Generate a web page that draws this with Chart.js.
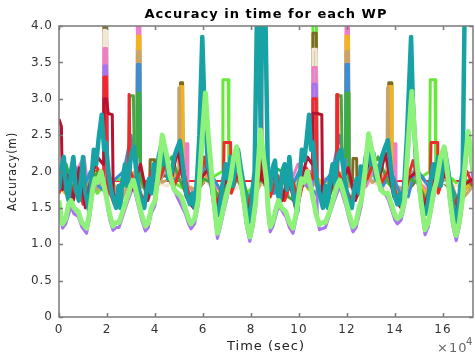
<!DOCTYPE html>
<html>
<head>
<title>Accuracy in time for each WP</title>
<style>
  body { margin: 0; background: #fff; }
</style>
</head>
<body>
<canvas id="acc" width="475" height="360"></canvas>

<script src="https://cdn.jsdelivr.net/npm/chart.js@4.4.0/dist/chart.umd.min.js"></script>
<script>
// time axis is in units of 10^4 sec
const xTicks = [0, 2, 4, 6, 8, 10, 12, 14, 16];
const yTicks = [0, 0.5, 1, 1.5, 2, 2.5, 3, 3.5, 4];

// light green WP (lowest envelope), [time, accuracy]
const limePts = [[0, 1.6], [0.08, 1.4], [0.15, 1.28], [0.28, 1.35], [0.4, 1.55], [0.5, 1.6], [0.62, 1.5], [0.8, 1.45], [0.95, 1.3], [1.15, 1.22], [1.28, 1.45], [1.4, 1.75], [1.5, 1.9], [1.62, 1.85], [1.75, 2.0], [1.88, 1.8], [2.0, 1.6], [2.12, 1.4], [2.25, 1.25], [2.38, 1.3], [2.5, 1.3], [2.65, 1.45], [2.85, 1.65], [2.98, 1.8], [3.1, 1.88], [3.2, 1.75], [3.3, 1.6], [3.45, 1.4], [3.6, 1.25], [3.72, 1.3], [3.85, 1.5], [4.0, 1.6], [4.15, 2.0], [4.3, 2.5], [4.4, 2.35], [4.5, 2.2], [4.62, 1.95], [4.8, 1.75], [4.95, 1.7], [5.1, 1.65], [5.25, 1.5], [5.4, 1.35], [5.5, 1.28], [5.65, 1.35], [5.8, 1.6], [5.95, 2.4], [6.1, 3.08], [6.22, 2.5], [6.35, 2.0], [6.45, 1.6], [6.6, 1.15], [6.72, 1.3], [6.85, 1.5], [7.0, 1.7], [7.15, 1.9], [7.28, 2.2], [7.4, 2.34], [7.52, 2.0], [7.7, 1.6], [7.82, 1.3], [7.95, 1.1], [8.08, 1.3], [8.2, 1.6], [8.3, 2.1], [8.4, 2.57], [8.52, 2.2], [8.64, 1.9],
    [8.72, 1.45], [8.8, 1.24], [8.92, 1.32], [9.05, 1.5], [9.15, 1.6], [9.28, 1.5], [9.45, 1.45], [9.6, 1.3], [9.75, 1.22], [9.9, 1.45], [10.02, 1.75], [10.1, 1.9], [10.22, 1.85], [10.35, 2.0], [10.48, 1.8], [10.6, 1.6], [10.72, 1.4], [10.85, 1.27], [10.98, 1.3], [11.1, 1.3], [11.28, 1.45], [11.45, 1.65], [11.58, 1.8], [11.7, 1.88], [11.82, 1.75], [11.95, 1.6], [12.1, 1.4], [12.25, 1.24], [12.38, 1.3], [12.5, 1.5], [12.6, 1.6], [12.75, 2.0], [12.9, 2.52], [13.0, 2.35], [13.1, 2.2], [13.25, 1.95], [13.4, 1.75], [13.55, 1.7], [13.7, 1.7], [13.85, 1.55], [14.0, 1.4], [14.1, 1.35], [14.25, 1.4], [14.4, 1.6], [14.55, 2.4], [14.7, 3.1], [14.82, 2.5], [14.95, 2.0], [15.08, 1.6], [15.25, 1.2], [15.38, 1.3], [15.5, 1.5], [15.6, 1.7], [15.75, 1.9], [15.9, 2.2], [16.05, 2.34], [16.18, 2.0], [16.3, 1.6], [16.42, 1.3], [16.55, 1.12], [16.68, 1.3], [16.8, 1.6], [16.92, 2.1], [17.05, 2.55], [17.15, 2.3], [17.25, 2.0]];

// teal WP (main thick line)
const tealPts = [[0, 1.75], [0.1, 2.05], [0.2, 2.2], [0.3, 1.75], [0.4, 1.6], [0.5, 2.0], [0.6, 2.2], [0.7, 1.75], [0.83, 1.6], [0.92, 1.9], [1.0, 2.2], [1.1, 1.7], [1.26, 1.45], [1.35, 1.9], [1.45, 2.3], [1.55, 2.1], [1.65, 2.45], [1.78, 2.78], [1.88, 2.3], [1.95, 2.4], [2.08, 1.93], [2.2, 1.7], [2.38, 1.5], [2.48, 1.8], [2.55, 1.5], [2.65, 1.9], [2.75, 2.1], [2.85, 1.8], [2.92, 2.0], [3.02, 2.25], [3.12, 2.34], [3.22, 2.0], [3.3, 1.8], [3.42, 1.6], [3.55, 1.5], [3.65, 1.75], [3.75, 1.9], [3.85, 1.7], [3.95, 2.1], [4.04, 1.93], [4.15, 2.2], [4.25, 2.35], [4.35, 2.1], [4.45, 2.25], [4.55, 1.9], [4.7, 2.0], [4.8, 2.2], [4.9, 2.3], [5.04, 2.42], [5.12, 2.2], [5.2, 1.95], [5.3, 1.7], [5.46, 1.55], [5.56, 1.7], [5.65, 1.5], [5.75, 1.9], [5.85, 2.5], [5.97, 3.85], [6.05, 3.0], [6.12, 2.6], [6.2, 2.1], [6.29, 1.98], [6.4, 1.7], [6.5, 1.5], [6.63, 1.4], [6.72, 1.6], [6.85, 1.9], [6.95, 2.1], [7.05, 1.9], [7.15, 2.2], [7.25, 1.8], [7.35, 2.1], [7.46, 2.3], [7.55, 2.1], [7.65, 1.9], [7.78, 1.55], [7.9, 1.3], [7.98, 1.4], [8.08, 1.8], [8.15, 2.0], [8.25, 4.2], [8.33, 4.2], [8.4, 2.6], [8.47, 4.2], [8.6, 4.2], [8.7, 2.0],
    [8.8, 1.75], [8.9, 2.05], [9.0, 2.15], [9.1, 1.7], [9.2, 1.6], [9.3, 2.0], [9.4, 2.1], [9.5, 1.75], [9.6, 2.2], [9.7, 1.8], [9.82, 1.6], [9.93, 1.45], [10.02, 1.85], [10.12, 2.3], [10.22, 2.15], [10.32, 2.45], [10.42, 2.78], [10.5, 2.3], [10.58, 2.4], [10.7, 1.95], [10.85, 1.7], [11.0, 1.5], [11.1, 1.8], [11.2, 1.5], [11.3, 1.9], [11.4, 2.1], [11.5, 1.8], [11.57, 2.1], [11.66, 2.25], [11.75, 2.3], [11.87, 1.98], [11.95, 1.8], [12.05, 1.6], [12.2, 1.5], [12.3, 1.75], [12.4, 1.9], [12.5, 1.7], [12.57, 2.07], [12.68, 1.95], [12.78, 2.2], [12.9, 2.35], [13.0, 2.1], [13.1, 2.25], [13.2, 1.9], [13.32, 2.0], [13.45, 2.2], [13.55, 2.3], [13.7, 2.43], [13.78, 2.2], [13.86, 1.95], [13.95, 1.7], [14.1, 1.55], [14.2, 1.7], [14.3, 1.5], [14.4, 1.9], [14.5, 2.5], [14.67, 3.85], [14.74, 3.0], [14.8, 2.6], [14.88, 2.1], [14.96, 1.98], [15.05, 1.7], [15.15, 1.5], [15.3, 1.42], [15.38, 1.6], [15.5, 1.9], [15.6, 2.1], [15.7, 1.9], [15.8, 2.2], [15.9, 1.8], [16.0, 2.1], [16.07, 2.3], [16.17, 2.1], [16.27, 1.9], [16.4, 1.55], [16.55, 1.3], [16.62, 1.4], [16.72, 1.8], [16.82, 2.0], [16.9, 4.2], [17.25, 4.2]];

// other WPs
const darkRedPts = [[0, 2.72], [0.1, 2.62], [0.14, 1.75], [0.35, 1.95], [0.6, 1.6], [0.85, 2.05], [1.1, 1.5], [1.35, 1.9], [1.6, 2.2], [1.84, 2.1], [1.87, 3.0], [1.98, 3.0], [2.05, 2.8], [2.22, 2.78], [2.26, 1.7], [2.5, 1.55], [2.75, 2.0], [3.05, 1.75], [3.4, 2.1], [3.7, 1.6], [4.0, 1.95], [4.35, 2.2], [4.65, 1.85], [4.95, 2.3], [5.3, 1.65], [5.6, 1.5], [5.9, 1.9], [6.25, 2.05], [6.55, 1.5], [6.85, 1.8], [7.2, 2.0], [7.55, 1.9], [7.85, 1.4], [8.15, 1.8], [8.42, 1.9], [8.43, 4.1], [8.45, 4.1], [8.46, 1.9], [8.75, 1.75], [9.0, 2.0], [9.3, 1.6], [9.55, 1.95], [9.85, 1.5], [10.1, 1.9], [10.35, 2.2], [10.55, 2.1], [10.58, 2.8], [10.72, 2.8], [10.95, 2.78], [10.98, 1.7], [11.2, 1.55], [11.45, 1.95], [11.75, 1.8], [12.05, 2.05], [12.35, 1.6], [12.7, 1.95], [13.0, 2.2], [13.3, 1.85], [13.6, 2.25], [13.95, 1.65], [14.25, 1.5], [14.55, 1.9], [14.9, 2.0], [15.2, 1.5], [15.5, 1.8], [15.85, 2.0], [16.2, 1.9], [16.5, 1.4], [16.8, 1.8], [17.25, 1.9]];
const redPts = [[0, 1.7], [0.25, 2.0], [0.5, 1.65], [0.75, 1.95], [1.0, 1.55], [1.25, 1.8], [1.5, 2.1], [1.84, 1.9], [1.87, 3.3], [1.98, 3.3], [2.02, 1.8], [2.3, 1.55], [2.6, 1.85], [2.9, 1.9], [2.92, 3.06], [2.95, 3.06], [2.97, 2.0], [3.25, 1.8], [3.55, 1.6], [3.85, 2.0], [4.2, 1.9], [4.5, 2.15], [4.8, 1.8], [5.15, 2.1], [5.45, 1.6], [5.75, 1.75], [6.05, 2.2], [6.35, 1.8], [6.6, 1.55], [6.85, 1.9], [6.88, 2.4], [7.15, 2.4], [7.18, 1.7], [7.5, 2.0], [7.8, 1.5], [8.1, 1.75], [8.5, 2.0], [8.8, 1.65], [9.1, 1.95], [9.4, 1.6], [9.7, 1.9], [10.0, 1.6], [10.3, 2.05], [10.55, 1.9], [10.58, 3.0], [10.72, 3.0], [10.75, 1.8], [11.0, 1.55], [11.3, 1.75], [11.55, 1.9], [11.57, 3.06], [11.6, 3.06], [11.62, 2.0], [11.9, 1.8], [12.2, 1.6], [12.5, 1.95], [12.85, 1.9], [13.15, 2.15], [13.45, 1.85], [13.8, 2.05], [14.1, 1.6], [14.4, 1.75], [14.75, 2.15], [15.05, 1.75], [15.3, 1.55], [15.47, 1.9], [15.5, 2.4], [15.78, 2.4], [15.8, 1.7], [16.1, 2.0], [16.4, 1.5], [16.7, 1.7], [17.0, 2.0], [17.25, 1.8]];
const purplePts = [[0, 1.52], [0.15, 1.22], [0.28, 1.28], [0.5, 1.52], [0.62, 1.42], [0.8, 1.38], [0.95, 1.24], [1.15, 1.15], [1.28, 1.38], [1.4, 1.68], [1.5, 1.82], [1.75, 1.9], [1.84, 1.85], [1.87, 3.45], [1.98, 3.45], [2.02, 1.5], [2.12, 1.33], [2.25, 1.19], [2.38, 1.23], [2.5, 1.23], [2.65, 1.38], [2.85, 1.58], [3.1, 1.8], [3.3, 1.53], [3.45, 1.33], [3.6, 1.18], [3.72, 1.23], [3.85, 1.43], [4.0, 1.53], [4.3, 2.4], [4.62, 1.88], [4.95, 1.63], [5.25, 1.43], [5.4, 1.28], [5.5, 1.21], [5.65, 1.28], [5.8, 1.53], [6.1, 2.95], [6.35, 1.9], [6.45, 1.53], [6.6, 1.08], [6.72, 1.23], [6.85, 1.43], [7.0, 1.63], [7.4, 2.25], [7.7, 1.53], [7.82, 1.23], [7.95, 1.04], [8.08, 1.23], [8.2, 1.53], [8.4, 2.45], [8.64, 1.8], [8.72, 1.38], [8.8, 1.17], [8.92, 1.25], [9.15, 1.53], [9.45, 1.38], [9.6, 1.23], [9.75, 1.15], [9.9, 1.38], [10.1, 1.82], [10.55, 1.8], [10.58, 3.2], [10.72, 3.2], [10.76, 1.4], [10.85, 1.2], [11.1, 1.23], [11.45, 1.58], [11.7, 1.8], [11.95, 1.53], [12.1, 1.33], [12.25, 1.17], [12.38, 1.23], [12.6, 1.53], [12.9, 2.4], [13.25, 1.88], [13.7, 1.63], [14.0, 1.33], [14.1, 1.28], [14.25, 1.33], [14.4, 1.53], [14.7, 2.95], [14.95, 1.9], [15.08, 1.53], [15.25, 1.13], [15.38, 1.23], [15.6, 1.63], [16.05, 2.25], [16.3, 1.53], [16.42, 1.23], [16.55, 1.05], [16.68, 1.23], [16.8, 1.53], [17.05, 2.45], [17.25, 1.9]];
const greenPts = [[0, 1.8], [0.3, 2.1], [0.6, 1.7], [0.9, 2.05], [1.2, 1.6], [1.5, 1.95], [1.7, 2.0], [2.0, 1.8], [2.3, 1.6], [2.6, 1.75], [2.9, 1.9], [2.95, 3.04], [3.1, 3.04], [3.14, 2.2], [3.26, 2.2], [3.28, 3.08], [3.36, 3.08], [3.4, 1.9], [3.7, 1.65], [4.0, 1.8], [4.3, 2.05], [4.7, 2.2], [5.0, 1.9], [5.3, 1.7], [5.65, 1.6], [6.0, 1.9], [6.35, 1.85], [6.7, 1.6], [7.05, 1.95], [7.4, 2.1], [7.7, 1.85], [8.0, 1.5], [8.35, 1.9], [8.7, 1.8], [9.0, 2.05], [9.3, 2.0], [9.55, 1.65], [9.8, 1.6], [10.05, 1.85], [10.3, 2.0], [10.65, 1.9], [11.0, 1.6], [11.3, 1.7], [11.58, 1.9], [11.6, 3.04], [11.76, 3.04], [11.8, 2.2], [11.95, 2.2], [11.97, 3.08], [12.05, 3.08], [12.08, 1.9], [12.4, 1.65], [12.7, 1.8], [13.0, 2.05], [13.3, 2.2], [13.65, 1.9], [14.0, 1.7], [14.3, 1.6], [14.6, 1.9], [14.95, 1.85], [15.3, 1.6], [15.65, 1.95], [16.0, 2.1], [16.3, 1.85], [16.6, 1.5], [16.9, 1.9], [17.25, 1.8]];
const bluePts = [[0, 1.9], [0.35, 1.7], [0.7, 2.05], [1.0, 1.75], [1.3, 2.0], [1.65, 1.8], [2.0, 1.7], [2.35, 1.9], [2.7, 2.0], [3.0, 2.5], [3.1, 2.3], [3.24, 2.0], [3.27, 3.47], [3.37, 3.47], [3.4, 1.9], [3.75, 1.7], [4.1, 2.0], [4.45, 2.2], [4.75, 1.85], [5.1, 2.0], [5.4, 1.7], [5.75, 1.65], [6.1, 2.1], [6.45, 1.9], [6.8, 1.7], [7.15, 2.05], [7.5, 1.95], [7.85, 1.6], [8.2, 1.85], [8.6, 1.95], [8.95, 1.7], [9.3, 1.9], [9.65, 1.75], [10.0, 2.0], [10.35, 1.8], [10.7, 1.7], [11.05, 1.85], [11.4, 2.0], [11.68, 2.5], [11.8, 2.3], [11.93, 2.0], [11.96, 3.47], [12.06, 3.47], [12.09, 1.9], [12.45, 1.7], [12.8, 2.0], [13.15, 2.15], [13.5, 1.8], [13.85, 2.0], [14.2, 1.7], [14.55, 1.65], [14.85, 2.05], [15.2, 1.9], [15.55, 1.7], [15.9, 2.0], [16.25, 1.9], [16.6, 1.6], [16.9, 1.85], [17.25, 1.9]];
const tanPts = [[0, 1.7], [0.3, 1.9], [0.65, 2.05], [0.95, 1.65], [1.3, 1.9], [1.6, 1.75], [1.95, 2.05], [2.3, 1.8], [2.6, 1.6], [2.9, 1.85], [3.24, 2.0], [3.27, 3.65], [3.37, 3.65], [3.4, 1.8], [3.7, 1.75], [4.0, 2.1], [4.3, 1.85], [4.6, 1.9], [4.96, 2.0], [4.99, 3.15], [5.02, 3.15], [5.05, 2.0], [5.35, 1.8], [5.7, 1.75], [6.05, 2.0], [6.4, 1.75], [6.75, 1.6], [7.1, 1.85], [7.45, 2.05], [7.8, 1.7], [8.1, 1.6], [8.45, 1.9], [8.75, 1.7], [9.1, 1.9], [9.45, 2.0], [9.75, 1.75], [10.1, 1.85], [10.45, 1.8], [10.8, 1.65], [11.1, 1.9], [11.45, 1.8], [11.93, 2.0], [11.96, 3.65], [12.06, 3.65], [12.09, 1.8], [12.4, 1.75], [12.75, 2.1], [13.05, 1.85], [13.35, 1.9], [13.66, 2.0], [13.69, 3.15], [13.72, 3.15], [13.75, 2.0], [14.05, 1.8], [14.4, 1.75], [14.75, 2.0], [15.1, 1.7], [15.45, 1.65], [15.8, 1.9], [16.1, 2.05], [16.45, 1.7], [16.75, 1.6], [17.25, 1.8]];
const orangePts = [[0, 1.8], [0.4, 1.65], [0.75, 1.95], [1.1, 1.7], [1.45, 2.0], [1.8, 1.75], [2.15, 1.9], [2.5, 1.7], [2.85, 1.95], [3.24, 2.0], [3.27, 3.86], [3.37, 3.86], [3.4, 1.8], [3.75, 1.85], [4.1, 1.95], [4.45, 2.15], [4.75, 1.9], [5.03, 2.0], [5.06, 3.17], [5.15, 3.17], [5.18, 1.9], [5.5, 1.65], [5.85, 1.8], [6.2, 1.95], [6.55, 1.65], [6.9, 1.85], [7.25, 2.0], [7.6, 1.9], [7.95, 1.55], [8.3, 1.8], [8.65, 1.95], [9.0, 1.75], [9.35, 1.9], [9.7, 1.8], [10.05, 1.95], [10.4, 1.75], [10.8, 1.9], [11.15, 1.75], [11.5, 1.95], [11.93, 2.0], [11.96, 3.86], [12.06, 3.86], [12.09, 1.8], [12.45, 1.85], [12.8, 1.95], [13.15, 2.1], [13.45, 1.9], [13.71, 2.0], [13.74, 3.17], [13.84, 3.17], [13.87, 1.9], [14.2, 1.65], [14.55, 1.8], [14.9, 1.95], [15.25, 1.7], [15.6, 1.85], [15.95, 2.0], [16.3, 1.9], [16.65, 1.55], [17.0, 1.8], [17.25, 1.8]];
const pinkPts = [[0, 1.9], [0.35, 1.75], [0.7, 2.0], [1.05, 2.2], [1.2, 1.8], [1.5, 1.95], [1.84, 2.0], [1.87, 3.69], [1.98, 3.69], [2.02, 1.8], [2.35, 1.7], [2.7, 1.9], [3.0, 1.75], [3.24, 2.0], [3.27, 4.2], [3.37, 4.2], [3.4, 1.9], [3.75, 1.7], [4.1, 1.8], [4.45, 2.05], [4.8, 2.0], [5.25, 2.0], [5.28, 2.38], [5.34, 2.38], [5.37, 1.8], [5.7, 1.7], [6.1, 1.9], [6.45, 1.8], [6.9, 1.7], [7.25, 1.95], [7.6, 1.9], [7.9, 1.6], [8.2, 1.7], [8.55, 1.95], [8.9, 1.9], [9.25, 1.7], [9.6, 1.8], [9.95, 2.1], [10.3, 2.0], [10.55, 2.0], [10.58, 3.43], [10.72, 3.43], [10.76, 1.8], [11.05, 1.75], [11.4, 1.9], [11.7, 1.75], [11.93, 2.0], [11.96, 4.2], [12.06, 4.2], [12.09, 1.9], [12.45, 1.7], [12.8, 1.8], [13.15, 2.05], [13.5, 2.0], [13.92, 2.0], [13.95, 2.38], [14.01, 2.38], [14.04, 1.8], [14.4, 1.7], [14.8, 1.9], [15.15, 1.8], [15.5, 1.7], [15.85, 1.95], [16.2, 1.9], [16.5, 1.6], [16.8, 1.7], [17.25, 1.9]];
const creamPts = [[0, 1.8], [0.5, 1.95], [0.95, 1.7], [1.45, 1.9], [1.84, 2.0], [1.87, 3.94], [1.98, 3.94], [2.02, 1.8], [2.5, 1.75], [3.0, 1.9], [3.5, 1.7], [4.0, 1.85], [4.5, 1.8], [5.0, 1.95], [5.5, 1.7], [6.0, 1.9], [6.5, 1.75], [7.0, 1.7], [7.5, 1.8], [8.0, 1.6], [8.5, 1.85], [9.0, 1.9], [9.5, 1.75], [10.0, 1.9], [10.55, 2.0], [10.58, 3.68], [10.72, 3.68], [10.76, 1.8], [11.2, 1.75], [11.6, 1.9], [12.0, 1.9], [12.5, 1.75], [13.0, 1.85], [13.5, 1.8], [14.0, 1.7], [14.5, 1.85], [15.0, 1.9], [15.5, 1.7], [16.0, 1.85], [16.5, 1.8], [17.25, 1.9]];
const olivePts = [[0, 1.9], [0.35, 1.7], [0.7, 2.05], [1.05, 1.75], [1.4, 2.0], [1.84, 2.0], [1.87, 4.2], [1.98, 4.2], [2.02, 1.8], [2.4, 1.65], [2.8, 1.9], [3.15, 1.75], [3.5, 1.8], [3.78, 1.9], [3.8, 2.16], [3.98, 2.16], [4.0, 1.8], [4.35, 1.95], [4.7, 1.9], [5.03, 2.0], [5.06, 3.22], [5.15, 3.22], [5.18, 1.9], [5.55, 1.7], [5.9, 1.8], [6.3, 1.95], [6.65, 1.65], [7.0, 1.9], [7.35, 2.0], [7.65, 1.7], [8.0, 1.55], [8.35, 1.85], [8.68, 1.8], [8.7, 2.0], [8.9, 2.0], [8.92, 1.7], [9.25, 1.8], [9.6, 1.9], [9.95, 1.7], [10.25, 1.85], [10.55, 2.0], [10.58, 3.9], [10.72, 3.9], [10.76, 1.8], [11.1, 1.7], [11.5, 1.9], [11.85, 1.8], [12.23, 1.9], [12.25, 2.18], [12.4, 2.18], [12.42, 1.8], [12.8, 1.85], [13.1, 2.05], [13.4, 1.9], [13.71, 2.0], [13.74, 3.22], [13.84, 3.22], [13.87, 1.9], [14.25, 1.7], [14.7, 1.8], [15.05, 1.95], [15.4, 1.75], [15.8, 1.9], [16.2, 1.8], [16.6, 1.6], [17.25, 1.9]];
const brightGreenPts = [[0, 1.8], [0.4, 1.95], [0.8, 1.75], [1.2, 1.9], [1.6, 1.7], [2.0, 1.85], [2.5, 1.9], [3.0, 1.75], [3.5, 1.8], [4.0, 1.9], [4.5, 1.95], [5.0, 1.8], [5.5, 1.7], [5.9, 1.85], [6.3, 1.9], [6.8, 2.0], [6.83, 3.26], [7.05, 3.26], [7.08, 1.8], [7.4, 1.9], [7.8, 1.7], [8.3, 1.85], [8.8, 1.9], [9.3, 1.8], [9.8, 1.8], [10.2, 1.9], [10.55, 2.0], [10.58, 4.2], [10.72, 4.2], [10.76, 1.8], [11.1, 1.85], [11.5, 1.9], [12.0, 1.8], [12.5, 1.8], [13.0, 1.95], [13.5, 1.9], [14.0, 1.75], [14.5, 1.8], [15.0, 1.9], [15.44, 2.0], [15.47, 3.26], [15.67, 3.26], [15.7, 1.8], [16.0, 1.85], [16.4, 1.9], [16.8, 1.75], [17.25, 1.8]];
const redFlatPts = [[0.7, 1.87], [17.1, 1.87]];

function pts(list) { return list.map(p => ({ x: p[0], y: p[1] })); }

function wp(list, color, width) {
    return {
        data: pts(list),
        borderColor: color,
        borderWidth: width,
        pointRadius: 0,
        tension: 0,
        clip: 0,
        borderJoinStyle: 'round',
    };
}

// first dataset is drawn on top
const datasets = [
    wp(limePts, '#8ef27a', 5),
    wp(tealPts, '#17a2a6', 4.5),
    wp(darkRedPts, '#b8122e', 3),
    wp(redPts, '#f02a2a', 3),
    wp(purplePts, '#a873ef', 3),
    wp(greenPts, '#3dae3d', 3),
    wp(bluePts, '#3a8fd4', 3),
    wp(tanPts, '#c9a46a', 3),
    wp(orangePts, '#f2b41e', 3),
    wp(pinkPts, '#f07dc8', 3),
    wp(creamPts, '#f1e7d4', 3),
    wp(olivePts, '#7e6b22', 3),
    wp(brightGreenPts, '#68e83a', 3),
    wp(redFlatPts, '#ff2020', 2),
];

// MATLAB-ish box with inward ticks, plus the x10^4 exponent
const boxPlugin = {
    id: 'box',
    beforeUpdate(chart) { chart.ctx.letterSpacing = '1px'; },
    beforeDraw(chart) { chart.ctx.letterSpacing = '1px'; },
    afterDatasetsDraw(chart) {
        const ctx = chart.ctx;
        const a = chart.chartArea;
        const xs = chart.scales.x, ys = chart.scales.y;
        ctx.save();
        ctx.strokeStyle = '#7a7a7a';
        ctx.lineWidth = 1.5;
        ctx.strokeRect(a.left, a.top, a.right - a.left, a.bottom - a.top);
        ctx.beginPath();
        xTicks.forEach(v => {
            const px = Math.round(xs.getPixelForValue(v)) + 0.5;
            ctx.moveTo(px, a.bottom); ctx.lineTo(px, a.bottom - 4);
            ctx.moveTo(px, a.top); ctx.lineTo(px, a.top + 4);
        });
        yTicks.forEach(v => {
            const py = Math.round(ys.getPixelForValue(v)) + 0.5;
            ctx.moveTo(a.left, py); ctx.lineTo(a.left + 4, py);
            ctx.moveTo(a.right, py); ctx.lineTo(a.right - 4, py);
        });
        ctx.stroke();
        ctx.restore();
    },
    afterDraw(chart) {
        const ctx = chart.ctx;
        ctx.save();
        ctx.fillStyle = '#666';
        ctx.textBaseline = 'alphabetic';
        ctx.font = '13px "DejaVu Sans"';
        ctx.fillText('\u00d710', 437, 352);
        ctx.font = '10px "DejaVu Sans"';
        ctx.fillText('4', 466, 345);
        ctx.restore();
    }
};

new Chart(document.getElementById('acc'), {
    type: 'line',
    data: { datasets: datasets },
    options: {
        responsive: false,
        animation: false,
        events: [],
        layout: { padding: { left: 0, right: 2, top: 0, bottom: 0 } },
        plugins: {
            legend: { display: false },
            tooltip: { enabled: false },
            title: {
                display: true,
                text: 'Accuracy in time for each WP',
                fullSize: false,
                color: '#000',
                font: { family: '"DejaVu Sans"', size: 13, weight: 'bold' },
                padding: { top: 7, bottom: 3.4 },
            },
        },
        scales: {
            x: {
                type: 'linear',
                min: 0,
                max: 17.25,
                afterFit(scale) { scale.height = 43; },
                afterBuildTicks(scale) { scale.ticks = xTicks.map(v => ({ value: v })); },
                grid: { display: false, drawTicks: false },
                border: { display: false },
                ticks: { color: '#333', padding: 6, maxRotation: 0, font: { family: '"DejaVu Sans"', size: 12 } },
                title: {
                    display: true,
                    text: 'Time (sec)',
                    color: '#222',
                    font: { family: '"DejaVu Sans"', size: 13 },
                    padding: { top: 0, bottom: 6 },
                },
            },
            y: {
                min: 0,
                max: 4,
                afterFit(scale) { scale.width = 59; },
                afterBuildTicks(scale) { scale.ticks = yTicks.map(v => ({ value: v })); },
                grid: { display: false, drawTicks: false },
                border: { display: false },
                ticks: { color: '#333', padding: 6, font: { family: '"DejaVu Sans"', size: 12 } },
                title: {
                    display: true,
                    text: 'Accuracy(m)',
                    color: '#222',
                    font: { family: '"Liberation Sans Narrow", "DejaVu Sans Condensed", sans-serif', size: 12 },
                    padding: { top: 6, bottom: 0 },
                },
            },
        },
    },
    plugins: [boxPlugin],
});
</script>
</body>
</html>
